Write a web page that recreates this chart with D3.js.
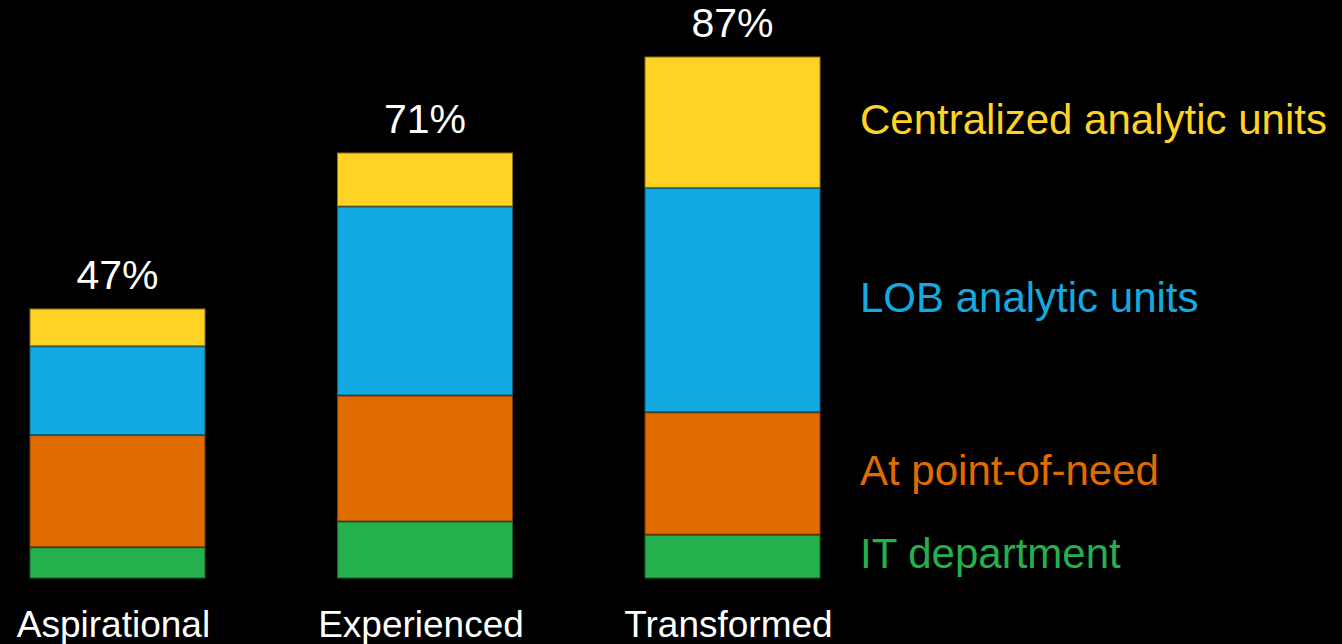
<!DOCTYPE html>
<html lang="en">
<head>
  <meta charset="UTF-8">
  <title>Analytics location by maturity</title>
  <script src="https://cdn.jsdelivr.net/npm/d3@7"></script>
  <style>
    body{
      margin:0; padding:0;
      background-color:#000;
      overflow:hidden;
    }
    svg text{
      font-family:"Liberation Sans", Arial, Helvetica, sans-serif;
    }
    .catLabel{
      fill:#fff;
      font-size:37px;
      text-anchor:middle;
    }
    .totalLabel{
      fill:#fff;
      font-size:41px;
      text-anchor:middle;
    }
    .legendLabel{
      font-size:42px;
    }
  </style>
</head>
<body>

<div id="chart"></div>

<script>
  // categories (bottom labels) and totals above each bar
  let categories = ["Aspirational", "Experienced", "Transformed"];
  let totals = ["47%", "71%", "87%"];

  // series, stacked bottom -> top
  let seriesNames = ["IT department", "At point-of-need", "LOB analytic units", "Centralized analytic units"];
  let seriesColors = ["#23b04d", "#e06c00", "#12aae0", "#ffd324"];

  let itDept      = [5.2, 9.5, 7.3];
  let pointOfNeed = [18.7, 21.0, 20.4];
  let lobUnits    = [14.8, 31.5, 37.4];
  let centralized = [6.3, 9.0, 21.9];

  let width = 1342, height = 644;

  let svg = d3.select("#chart")
    .append("svg")
      .attr("width", width)
      .attr("height", height);

  // build rows for the stack
  let rows = categories.map(function(c, i){
    return {
      cat: c,
      "IT department": itDept[i],
      "At point-of-need": pointOfNeed[i],
      "LOB analytic units": lobUnits[i],
      "Centralized analytic units": centralized[i]
    };
  });

  let stacked = d3.stack().keys(seriesNames)(rows);

  let x = d3.scaleBand().domain(categories).range([30, 820]).paddingInner(0.431).paddingOuter(0);
  let y = d3.scaleLinear().domain([0, 96.5]).range([579, 0]);

  let color = d3.scaleOrdinal().domain(seriesNames).range(seriesColors);

  // bars
  let layers = svg.append("g").selectAll("g")
    .data(stacked)
    .enter().append("g")
      .attr("fill", function(d){ return color(d.key); })
      .attr("stroke", function(d){ return d3.color(color(d.key)).darker(1.6); });

  layers.selectAll("rect")
    .data(function(d){ return d; })
    .enter().append("rect")
      .attr("x", function(d){ return x(d.data.cat); })
      .attr("width", x.bandwidth())
      .attr("y", function(d){ return y(d[1]); })
      .attr("height", function(d){ return y(d[0]) - y(d[1]) - 1; })
      .attr("stroke-width", 1);

  // total labels above bars
  let topLayer = stacked[stacked.length - 1];
  svg.append("g").selectAll("text")
    .data(topLayer)
    .enter().append("text")
      .attr("class", "totalLabel")
      .attr("x", function(d){ return x(d.data.cat) + x.bandwidth() / 2; })
      .attr("y", function(d){ return y(d[1]) - 20; })
      .text(function(d, i){ return totals[i]; });

  // category labels
  svg.append("g").selectAll("text")
    .data(categories)
    .enter().append("text")
      .attr("class", "catLabel")
      .attr("x", function(d){ return x(d) + x.bandwidth() / 2 - 4; })
      .attr("y", 637)
      .text(function(d){ return d; });

  // legend, placed beside the segments of the last bar
  let last = categories.length - 1;
  svg.append("g").selectAll("text")
    .data(stacked)
    .enter().append("text")
      .attr("class", "legendLabel")
      .attr("x", 860)
      .attr("y", function(d){ return (y(d[last][0]) + y(d[last][1])) / 2 + 11; })
      .attr("fill", function(d){ return color(d.key); })
      .text(function(d){ return d.key; });
</script>
</body>
</html>
